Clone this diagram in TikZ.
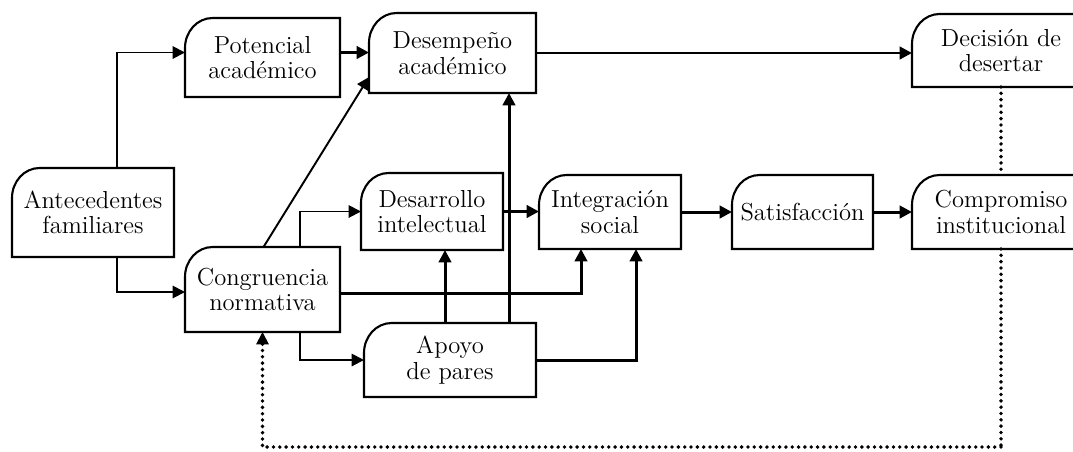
\documentclass[tikz,border=0pt]{standalone}
\usetikzlibrary{arrows.meta}

\begin{document}
\begin{tikzpicture}
[
	bx/.style={rectangle,outer sep=0,align=center,inner sep=1pt,font=\fontsize{14}{14.5}\selectfont},
	ln/.style={line width=1.1pt,-{Triangle[length=7pt,width=7pt]}},
	tk/.style={line width=1.7pt,-{Triangle[length=7pt,width=7pt]}},
	dt/.style={line width=2.2pt,line cap=round,dash pattern=on 0pt off 3.6pt}
]

\useasboundingbox (0,0) rectangle (21.46,9.02);
\clip (0,0) rectangle (21.46,9.02);

\node[bx,minimum width=3.24cm,minimum height=1.78cm] (ant) at (1.86,4.77) {Antecedentes\\familiares};
\node[bx,minimum width=3.10cm,minimum height=1.58cm] (pot) at (5.25,7.87) {Potencial\\académico};
\node[bx,minimum width=3.34cm,minimum height=1.60cm] (des) at (9.05,7.96) {Desempeño\\académico};
\node[bx,minimum width=3.56cm,minimum height=1.46cm] (dec) at (20.02,8.01) {Decisión de\\desertar};

\node[bx,minimum width=3.10cm,minimum height=1.70cm] (cong) at (5.25,3.23) {Congruencia\\normativa};
\node[bx,minimum width=2.84cm,minimum height=1.54cm] (desa) at (8.64,4.79) {Desarrollo\\intelectual};
\node[bx,minimum width=2.84cm,minimum height=1.48cm] (integ) at (12.20,4.78) {Integración\\social};
\node[bx,minimum width=2.82cm,minimum height=1.48cm] (sat) at (16.05,4.78) {Satisfacción};
\node[bx,minimum width=3.56cm,minimum height=1.48cm] (com) at (20.02,4.78) {Compromiso\\institucional};
\node[bx,minimum width=3.44cm,minimum height=1.48cm] (apo) at (9.00,1.82) {Apoyo\\de pares};

% box outlines, only the top left corner is round
\foreach \n in {ant,pot,des,dec,cong,desa,integ,sat,com,apo}
	\draw[line width=1.2pt] (\n.south west) -- ([yshift=-0.6cm]\n.north west)
		arc[start angle=180,end angle=90,x radius=0.55cm,y radius=0.6cm] -- (\n.north east) -- (\n.south east) -- cycle;

\draw[ln] ([xshift=0.48cm]ant.north) |- ([yshift=0.1cm]pot.west);
\draw[ln] ([xshift=0.48cm]ant.south) |- ([yshift=-0.05cm]cong.west);

\draw[tk] ([yshift=0.1cm]pot.east) -- ([yshift=0.1cm]des.west |- pot.east);
\draw[ln] ([xshift=0.02cm]cong.north) -- ([yshift=0.32cm]des.south west);
\draw[tk] (des.east) -- (des.east -| dec.west);

\draw[ln] ([xshift=0.75cm]cong.north) |- (desa.west);
\draw[ln] ([xshift=0.75cm]cong.south) |- (apo.west);
\draw[tk] ([yshift=-0.07cm]cong.east) -| ([xshift=-0.58cm]integ.south);

\draw[tk] ([xshift=-0.1cm]apo.north) -- ([xshift=-0.1cm]apo.north |- desa.south);
\draw[tk] ([xshift=1.18cm]apo.north) -- ([xshift=1.18cm]apo.north |- des.south);
\draw[tk] (apo.east) -| ([xshift=0.52cm]integ.south);

\draw[tk] (desa.east) -- (desa.east -| integ.west);
\draw[tk] (integ) -- (sat);
\draw[tk] (sat) -- (com);

\draw[dt] (dec.south) -- (com.north);
\coordinate (fb) at (20.02,0.08);
\draw[dt] (com.south) -- (fb);
\draw[dt] (fb) -| ([yshift=-0.2cm]cong.south);
\draw[line width=1.1pt,-{Triangle[length=7pt,width=7pt]}] ([yshift=-0.2cm]cong.south) -- (cong.south);

\end{tikzpicture}
\end{document}
